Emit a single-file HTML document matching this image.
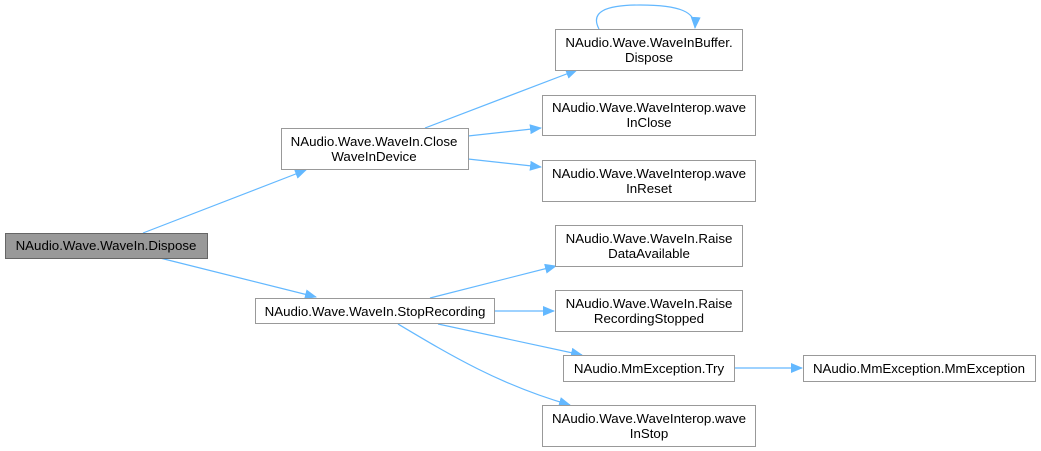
<!DOCTYPE html>
<html><head><meta charset="utf-8"><style>
body{margin:0;background:#fff;width:1041px;height:451px;overflow:hidden}
svg{display:block}
text{font-family:"Liberation Sans",Arial,sans-serif;font-size:13.3px;fill:#000}
</style></head><body>
<svg width="1041" height="451" viewBox="0 0 1041 451">
<defs><marker id="a" markerWidth="12" markerHeight="10" refX="11" refY="5" orient="auto" markerUnits="userSpaceOnUse"><path d="M0,0 L12,5 L0,10 Z" fill="#63b8ff"/></marker></defs>
<g stroke="#63b8ff" stroke-width="1.2" fill="none" marker-end="url(#a)">
<path d="M143,233 L306,170"/>
<path d="M160,258 L316,297"/>
<path d="M425,128 L577,70"/>
<path d="M468,136 L541,128"/>
<path d="M468,159 L541,167"/>
<path d="M430,298 L556,266"/>
<path d="M494,311 L554,311"/>
<path d="M438,324 L582,355"/>
<path d="M398,324 C450,355 500,385 570,405"/>
<path d="M734,368 L802,368"/>
<path d="M599,29 C590,12 605,5 640,5 C680,5 696,12 695,28"/>
</g>
<g stroke="#999" stroke-width="1" fill="#fff">
<rect x="5.5" y="233.5" width="202" height="25" fill="#999" stroke="#666"/>
<rect x="281.5" y="128.5" width="187" height="41"/>
<rect x="255.5" y="298.5" width="239" height="25"/>
<rect x="555.5" y="29.5" width="187" height="41"/>
<rect x="542.5" y="95.5" width="213" height="40"/>
<rect x="542.5" y="160.5" width="213" height="41"/>
<rect x="555.5" y="225.5" width="187" height="41"/>
<rect x="555.5" y="290.5" width="187" height="41"/>
<rect x="563.5" y="355.5" width="171" height="26"/>
<rect x="803.5" y="355.5" width="232" height="26"/>
<rect x="542.5" y="405.5" width="213" height="41"/>
</g>
<g text-anchor="middle">
<text x="106" y="250">NAudio.Wave.WaveIn.Dispose</text>
<text x="374" y="146">NAudio.Wave.WaveIn.Close</text>
<text x="374" y="161">WaveInDevice</text>
<text x="375" y="316">NAudio.Wave.WaveIn.StopRecording</text>
<text x="649" y="47">NAudio.Wave.WaveInBuffer.</text>
<text x="649" y="62">Dispose</text>
<text x="649" y="112">NAudio.Wave.WaveInterop.wave</text>
<text x="649" y="127">InClose</text>
<text x="649" y="178">NAudio.Wave.WaveInterop.wave</text>
<text x="649" y="193">InReset</text>
<text x="649" y="243">NAudio.Wave.WaveIn.Raise</text>
<text x="649" y="258">DataAvailable</text>
<text x="649" y="308">NAudio.Wave.WaveIn.Raise</text>
<text x="649" y="323">RecordingStopped</text>
<text x="649" y="373">NAudio.MmException.Try</text>
<text x="919" y="373">NAudio.MmException.MmException</text>
<text x="649" y="423">NAudio.Wave.WaveInterop.wave</text>
<text x="649" y="438">InStop</text>
</g>
</svg>
</body></html>
